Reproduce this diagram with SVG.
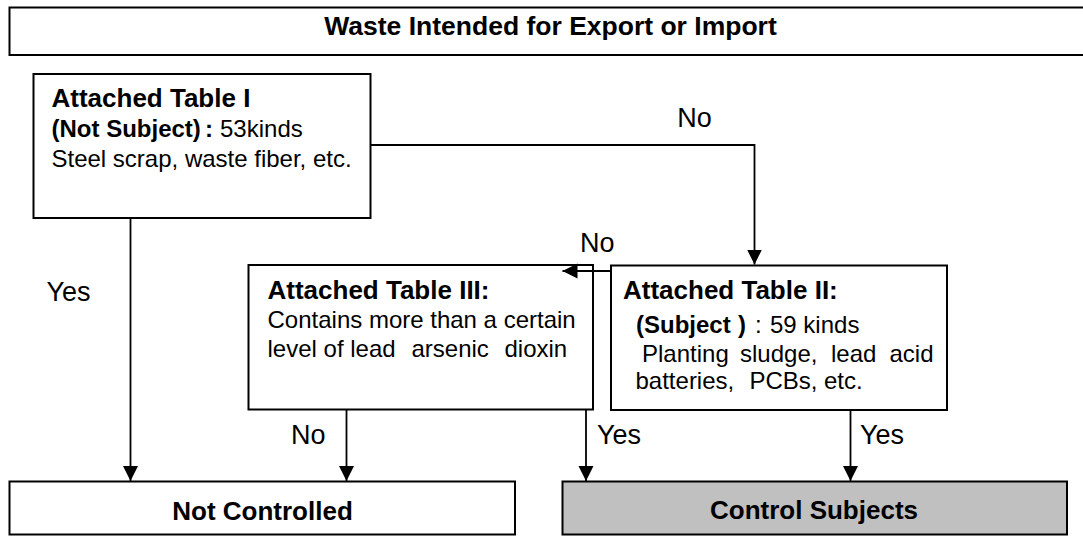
<svg xmlns="http://www.w3.org/2000/svg" width="1083" height="536" viewBox="0 0 1083 536">
  <style>
    .box { fill: #ffffff; stroke: #000000; stroke-width: 2; }
    .grey { fill: #c0c0c0; }
    .edge { fill: none; stroke: #000000; stroke-width: 1.8; }
    text { font-family: "Liberation Sans", Arial, "Noto Sans CJK JP", sans-serif; fill: #000000; }
    .head { font-size: 26px; font-weight: bold; }
    .big { font-size: 26.5px; font-weight: bold; }
    .body { font-size: 24px; }
    .bb { font-size: 24px; font-weight: bold; }
    .lbl { font-size: 27px; }
  </style>
  <defs>
    <marker id="arrow" markerUnits="userSpaceOnUse" markerWidth="16" markerHeight="16" refX="15" refY="7.5" orient="auto">
      <path d="M0,0 L15,7.5 L0,15 z" fill="#000000"/>
    </marker>
  </defs>

  <!-- header bar (runs off the right edge) -->
  <g id="header">
    <rect class="box" x="9.5" y="7.5" width="1090" height="47.5"/>
    <text class="big" x="550.5" y="35" text-anchor="middle">Waste Intended for Export or Import</text>
  </g>

  <!-- Table I: not subject -->
  <g id="table1">
    <rect class="box" x="33.5" y="74" width="337" height="144"/>
    <text class="head" x="51.5" y="107">Attached Table I</text>
    <text y="137"><tspan class="bb" x="51.5">(Not Subject)</tspan><tspan class="bb" x="205">:</tspan><tspan class="body" x="220">53kinds</tspan></text>
    <text class="body" x="51.5" y="167">Steel scrap, waste fiber, etc.</text>
  </g>

  <!-- Table III: contamination threshold -->
  <g id="table3">
    <rect class="box" x="248.5" y="265" width="344.5" height="144.5"/>
    <text class="head" x="267.5" y="299">Attached Table III:</text>
    <text class="body" x="267.5" y="327.5">Contains more than a certain</text>
    <text class="body" y="356.5"><tspan x="267.5">level of lead</tspan><tspan x="411.5">arsenic</tspan><tspan x="504.5">dioxin</tspan></text>
  </g>

  <!-- Table II: subject -->
  <g id="table2">
    <rect class="box" x="611" y="265.5" width="336" height="144.5"/>
    <text class="head" x="623" y="299">Attached Table II:</text>
    <text y="332.5"><tspan class="bb" x="636" font-size="25">(Subject</tspan><tspan class="bb" x="738" font-size="25">)</tspan><tspan class="body" x="755">:</tspan><tspan class="body" x="770">59 kinds</tspan></text>
    <text class="body" y="361.5"><tspan x="642">Planting</tspan><tspan x="740">sludge,</tspan><tspan x="831">lead</tspan><tspan x="889.5">acid</tspan></text>
    <text class="body" y="388.5"><tspan x="635.5">batteries,</tspan><tspan x="749.5">PCBs,</tspan><tspan x="824">etc.</tspan></text>
  </g>

  <!-- outcomes -->
  <g id="not-controlled">
    <rect class="box" x="9.5" y="481.5" width="505.5" height="53"/>
    <text class="head" x="262.5" y="520" text-anchor="middle">Not Controlled</text>
  </g>
  <g id="control-subjects">
    <rect class="box grey" x="562.5" y="481.5" width="504.5" height="53"/>
    <text class="head" x="814" y="518.5" text-anchor="middle">Control Subjects</text>
  </g>

  <!-- connectors and their labels -->
  <g id="connectors">
    <polyline class="edge" points="370.5,145 754.5,145 754.5,264.5" marker-end="url(#arrow)"/>
    <line class="edge" x1="130.5" y1="218" x2="130.5" y2="481" marker-end="url(#arrow)"/>
    <line class="edge" x1="611" y1="271" x2="562.5" y2="271" marker-end="url(#arrow)"/>
    <line class="edge" x1="346.5" y1="409.5" x2="346.5" y2="481" marker-end="url(#arrow)"/>
    <line class="edge" x1="586" y1="409.5" x2="586" y2="481" marker-end="url(#arrow)"/>
    <line class="edge" x1="850.5" y1="410" x2="850.5" y2="481" marker-end="url(#arrow)"/>

    <text class="lbl" x="694.5" y="126.5" text-anchor="middle">No</text>
    <text class="lbl" x="580" y="251.5">No</text>
    <text class="lbl" x="46.5" y="300.5">Yes</text>
    <text class="lbl" x="291" y="444">No</text>
    <text class="lbl" x="597" y="443.5">Yes</text>
    <text class="lbl" x="860" y="443.5">Yes</text>
  </g>
</svg>
